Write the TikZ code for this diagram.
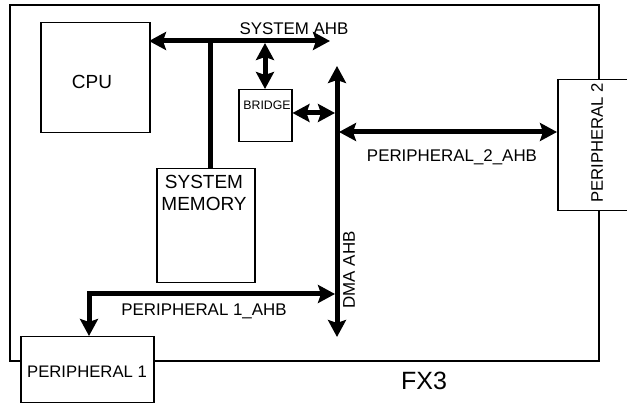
\documentclass[tikz,border=0pt]{standalone}
\usepackage{fontspec}
\setmainfont{Liberation Sans}
\usetikzlibrary{arrows.meta}
\begin{document}
\begin{tikzpicture}[x=1pt,y=-1pt,
  box/.style={draw, line width=1.5pt, fill=white, inner sep=0pt, anchor=north west},
  bus/.style={line width=5pt, line join=miter},
  >={Stealth[length=17pt,width=18pt,inset=3pt]},
  txt/.style={inner sep=0pt, font=\fontsize{16.9}{20}\selectfont},
  big/.style={inner sep=0pt, font=\fontsize{19}{22}\selectfont, align=center}]
\useasboundingbox (0,0) rectangle (627,403);
\clip (0,0) rectangle (627,403);
% FX3 frame
\draw[line width=1.2pt] (10,5) rectangle (599,361);
% boxes
\node[box, minimum width=109pt, minimum height=110pt] (cpu) at (40,22) {};
\node[box, minimum width=98pt, minimum height=114pt] (mem) at (156,168) {};
\node[box, minimum width=53pt, minimum height=52pt] (bridge) at (238,89) {};
\node[box, minimum width=133pt, minimum height=66pt] (p1) at (20,336) {};
\node[box, minimum width=80pt, minimum height=131pt] (p2) at (557,79) {};
% texts
\node[big] (cputxt) at (92,82) {CPU};
\node[big] (memtxt) at (204,193) {SYSTEM\\MEMORY};
\node[inner sep=0pt, font=\fontsize{12.3}{14}\selectfont] (brtxt) at (267,105) {BRIDGE};
\node[inner sep=0pt, font=\fontsize{16.7}{20}\selectfont] (p1txt) at (87,372) {PERIPHERAL 1};
\node[inner sep=0pt, font=\fontsize{16.7}{20}\selectfont, rotate=90] (p2txt) at (597,143) {PERIPHERAL 2};
\node[inner sep=0pt, font=\fontsize{25}{28}\selectfont] (fx3) at (424,381) {FX3};
\node[txt] (sysl) at (294,29) {SYSTEM AHB};
\node[txt] (p2l) at (452,157) {PERIPHERAL\_2\_AHB};
\node[txt] (p1l) at (204,311) {PERIPHERAL 1\_AHB};
\node[txt, rotate=90] (dmal) at (349,270) {DMA AHB};
% bus coordinates
\coordinate (sysL) at (149,41);
\coordinate (sysR) at (330,41);
\coordinate (memtap) at (210,41);
\coordinate (brtap) at (265,43);
\coordinate (dmaT) at (337,66);
\coordinate (dmaB) at (337,337);
\coordinate (dmaBr) at (335,113);
\coordinate (dmaP2) at (339,132);
\coordinate (dmaP1) at (335,294);
\coordinate (p1c) at (89,294);
% buses
\draw[bus,<->] (sysL) -- (sysR);
\draw[bus] (memtap) -- (memtap |- mem.north);
\draw[bus,<->] (brtap) -- (brtap |- bridge.north);
\draw[bus,<->] (dmaT) -- (dmaB);
\draw[bus,<->] (bridge.east |- dmaBr) -- (dmaBr);
\draw[bus,<->] (dmaP2) -- (dmaP2 -| p2.west);
\draw[bus,<->] (dmaP1) -- (p1c) -- (p1c |- p1.north);
\end{tikzpicture}
\end{document}
